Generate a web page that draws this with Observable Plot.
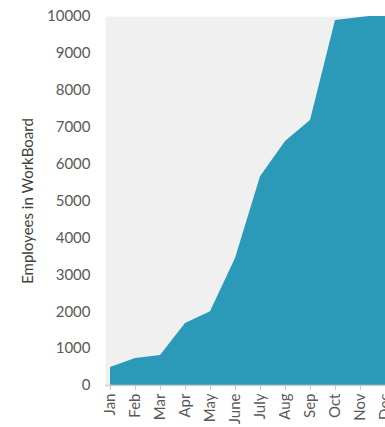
<!DOCTYPE html>
<html>
<head>
<meta charset="utf-8">
<script src="https://cdn.jsdelivr.net/npm/d3@7"></script>
<script src="https://cdn.jsdelivr.net/npm/@observablehq/plot@0.6"></script>
<style>
html, body { margin: 0; padding: 0; overflow: hidden; background: white; }
#chart svg { max-width: none !important; display: block; }
</style>
</head>
<body>
<div id="chart"></div>
<script>
const months = ["Jan", "Feb", "Mar", "Apr", "May", "June", "July", "Aug", "Sep", "Oct", "Nov", "Dec"];
const employees = [490, 730, 810, 1680, 2000, 3440, 5660, 6610, 7180, 9890, 9970, 10050];
const yTicks = [0, 1000, 2000, 3000, 4000, 5000, 6000, 7000, 8000, 9000, 10000];
const yLabel = "Employees in WorkBoard";

const data = months.map((m, i) => ({month: m, value: employees[i]}));

const chart = Plot.plot({
  width: 399,
  height: 427,
  marginLeft: 105,
  marginRight: 10,
  marginTop: 16,
  marginBottom: 42,
  style: {background: "white", fontFamily: "Lato, 'Open Sans', sans-serif", fontSize: "15px", color: "#595959", maxWidth: "none"},
  x: {type: "point", domain: months, padding: 0, label: null},
  y: {domain: [0, 10000], label: null},
  marks: [
    Plot.frame({fill: "#f0f0f0", stroke: null}),
    Plot.areaY(data, {x: "month", y: "value", fill: "#2a9ab8", clip: true}),
    Plot.ruleY([0], {stroke: "#d0d0d0", strokeWidth: 1.5}),
    Plot.axisX({tickRotate: -90, tickSize: 5, tickPadding: 3, stroke: "#c8c8c8", fill: "#595959", fontSize: 15, label: null}),
    Plot.axisY({ticks: yTicks, tickSize: 0, tickPadding: 15, fill: "#595959", fontSize: 15, tickFormat: d => String(d), label: null}),
    Plot.text([yLabel], {frameAnchor: "left", textAnchor: "middle", rotate: -90, dx: -77, fill: "#404040", fontSize: 15})
  ]
});
document.getElementById("chart").appendChild(chart);
</script>
</body>
</html>
